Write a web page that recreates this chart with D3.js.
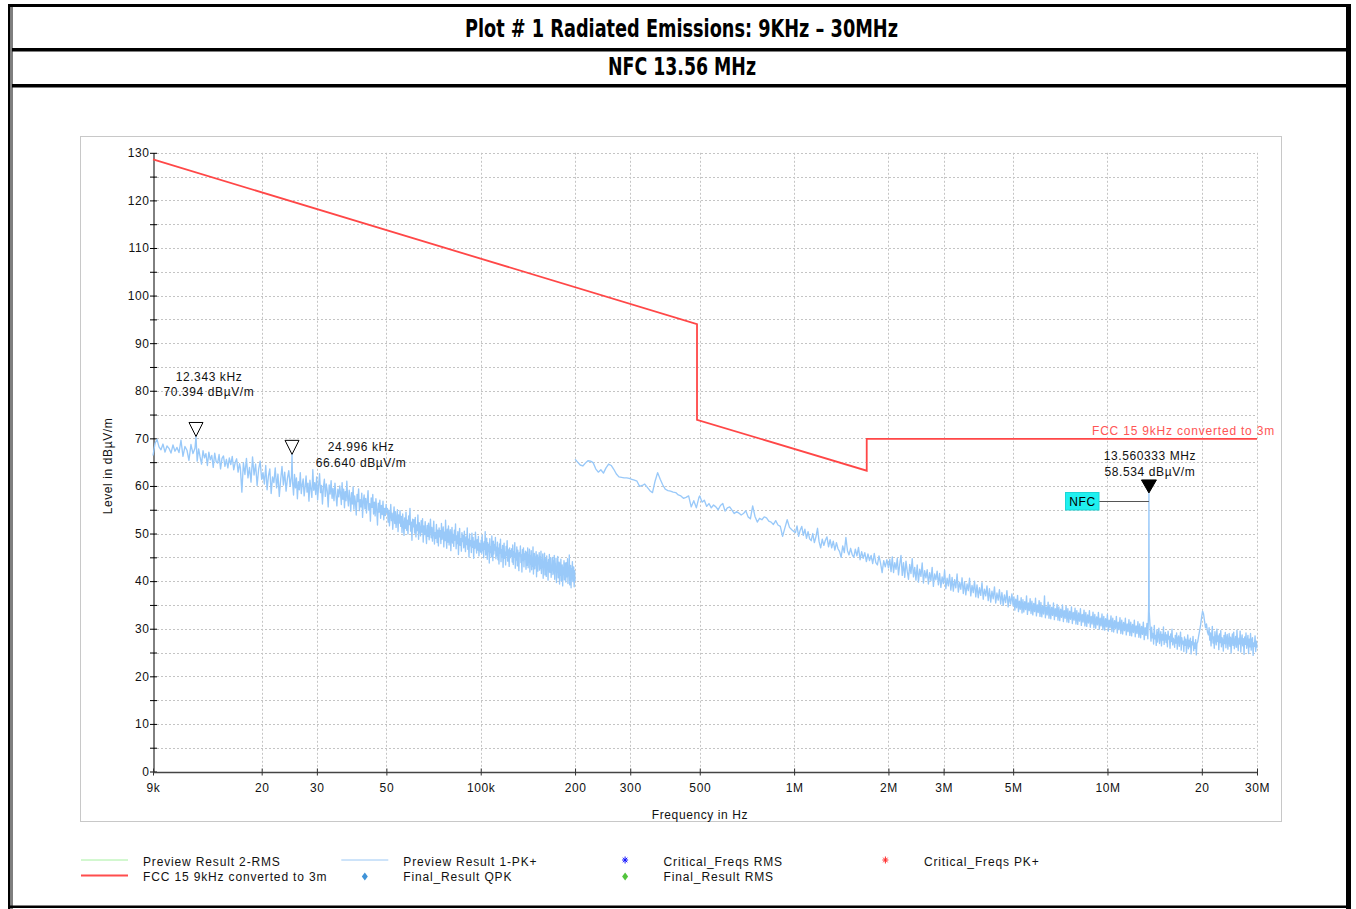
<!DOCTYPE html>
<html>
<head>
<meta charset="utf-8">
<script src="https://cdn.jsdelivr.net/npm/d3@7"></script>
<style>
  body { margin: 0; background: #fff; }
  svg { display: block; }
  text { font-family: "Liberation Sans", Arial, sans-serif; font-size: 12px; }
</style>
</head>
<body>
<svg id="chart"></svg>
<script>
const title = "Plot # 1 Radiated Emissions: 9KHz \u2013 30MHz"
const subtitle = "NFC 13.56 MHz"

const yTickValues = [0, 10, 20, 30, 40, 50, 60, 70, 80, 90, 100, 110, 120, 130]
const yMinorTicks = [5, 15, 25, 35, 45, 55, 65, 75, 85, 95, 105, 115, 125]
const xTickFreqs = [9e3, 20e3, 30e3, 50e3, 100e3, 200e3, 300e3, 500e3, 1e6, 2e6, 3e6, 5e6, 10e6, 20e6, 30e6]
const xTickLabels = ["9k", "20", "30", "50", "100k", "200", "300", "500", "1M", "2M", "3M", "5M", "10M", "20", "30M"]

// FCC 15 limit, converted to 3m
const limitFreqs = [9e3, 490e3, 490e3, 1.705e6, 1.705e6, 30e6]
const limitLevels = [128.6, 94.0, 73.9, 63.2, 69.9, 69.9]

// Preview Result 1-PK+, sweep 1 (9 kHz - 200 kHz), levels in dBuV/m per sub band
const pkA = [66.4, 68.9, 69.8, 68.2, 67.6, 68.8, 67.1, 68.4, 67.9, 66.9, 68.6, 67.3, 68.1, 67.0, 69.6, 66.2, 68.3, 67.5, 65.4, 68.7, 66.8, 67.9]
const pkB = [65.2, 67.8, 66.1, 64.6, 67.4, 65.9, 66.8, 64.3, 67.1, 65.5, 66.4, 63.9, 66.9, 65.1, 64.8, 66.6, 63.6, 65.8, 66.3, 64.1, 65.6, 63.8, 65.9, 64.5, 66.2, 63.4, 64.9, 65.7, 62.9, 64.7]
const pkC = [63.8, 58.7, 64.9, 62.4, 65.8, 61.7, 63.9, 60.8, 66.1, 62.3, 64.6, 60.1, 63.5, 65.2, 61.4]
const pkD = [62.8, 60.4, 64.3, 59.2, 62.1, 63.6, 58.4, 61.9, 60.7, 63.8, 59.6, 62.5, 57.8, 61.3, 64.1, 60.2, 62.9, 58.9, 61.6, 63.2, 59.9, 62.2]
const pkE = [60.8, 58.1, 62.4, 59.6, 61.7, 57.3, 60.9, 59.2, 62.8, 58.4, 60.3, 61.5, 57.9, 59.8, 62.1, 58.7, 60.6, 56.8, 61.2, 59.4,
  57.6, 63.4, 59.1, 60.7, 58.2, 61.9, 57.1, 59.9, 62.6, 58.6, 60.1, 56.2, 59.7, 61.4, 57.8, 60.4, 58.9, 55.6, 60.2, 58.3,
  61.1, 57.4, 59.5, 56.9, 60.6, 58.1, 55.8, 59.3, 57.7, 60.0]
const pkF = [58.4, 56.1, 60.7, 57.2, 59.3, 55.4, 58.8, 56.9, 61.0, 57.6, 55.8, 59.1, 57.3, 54.7, 58.6, 56.2, 59.8, 55.1, 57.9, 56.5,
  53.9, 58.2, 56.7, 59.4, 54.8, 57.1, 55.6, 58.5, 53.4, 56.8, 58.1, 55.2, 57.4, 54.3, 56.9, 59.0, 54.9, 56.3, 52.6, 57.5,
  55.5, 58.2, 54.1, 56.6, 53.7, 57.3, 55.0, 51.8, 56.4, 54.5, 57.0, 53.2, 55.9, 54.0, 56.8, 52.9, 55.3, 53.8, 56.1, 54.4]
const pkG = [55.2, 52.4, 54.9, 51.6, 53.8, 56.1, 52.7, 54.3, 50.9, 53.5, 55.6, 52.1, 54.6, 51.3, 53.1, 55.0, 50.4, 53.9, 52.2, 54.8,
  51.5, 53.6, 50.2, 54.1, 52.0, 49.6, 53.3, 51.1, 54.5, 50.7, 52.8, 49.9, 53.7, 51.9, 55.3, 50.5, 52.4, 48.6, 53.0, 51.4,
  52.9, 50.1, 53.4, 49.3, 51.8, 50.6, 53.9, 48.8, 52.3, 50.9, 49.5, 52.7, 50.3, 53.1, 48.2, 51.6, 49.8, 52.5, 50.0, 47.9,
  51.7, 49.4, 52.2, 48.7, 50.8, 53.0, 49.1, 51.3, 48.4, 50.5, 52.6, 47.8, 50.2, 49.0, 51.9, 48.1, 50.7, 47.4, 51.2, 49.3]
const pkH = [50.6, 47.9, 52.1, 48.8, 49.9, 51.4, 47.2, 50.3, 48.5, 52.8, 49.1, 46.9, 50.9, 48.2, 51.6, 47.6, 49.7, 50.8, 46.4, 49.4,
  51.3, 48.0, 49.8, 47.3, 50.7, 48.6, 52.0, 46.8, 49.5, 47.9, 50.4, 45.6, 49.0, 51.1, 47.5, 48.9, 46.3, 50.2, 48.3, 49.6,
  47.0, 50.5, 48.1, 46.2, 49.3, 47.7, 51.2, 46.7, 48.8, 45.1, 49.9, 47.4, 48.5, 46.0, 50.1, 47.1, 49.2, 44.8, 48.4, 46.9,
  50.3, 47.8, 45.9, 48.7, 46.5, 49.4, 45.3, 48.0, 47.2, 46.1]
const pkI = [48.6, 45.8, 49.7, 46.4, 47.9, 44.9, 48.3, 46.7, 50.4, 45.5, 47.4, 49.0, 44.6, 48.1, 46.2, 47.7, 43.8, 48.9, 46.0, 47.2,
  45.1, 49.5, 46.8, 44.3, 48.4, 45.7, 47.6, 46.5, 49.2, 44.7, 47.1, 45.3, 48.2, 44.5, 46.9, 43.6, 47.8, 45.9, 48.8, 44.1,
  46.6, 45.0, 47.5, 42.9, 46.3, 48.0, 44.8, 46.1, 43.4, 47.3, 45.4, 48.5, 44.2, 46.7, 45.6, 43.1, 47.0, 44.9, 46.4, 45.2,
  46.8, 44.0, 47.6, 43.5, 46.2, 45.1, 48.1, 42.7, 45.8, 44.4, 47.2, 43.2, 46.5, 44.7, 42.2, 46.0, 45.3, 47.4, 43.9, 45.5,
  41.9, 46.6, 44.3, 47.0, 43.0, 45.7, 44.6, 46.3, 42.5, 45.0]
const pkJ = [46.1, 43.3, 47.0, 42.8, 45.4, 44.0, 46.7, 41.9, 45.2, 43.6, 46.4, 42.4, 44.9, 43.1, 47.2, 41.5, 44.6, 45.8, 42.6, 45.0,
  43.4, 46.2, 40.9, 44.3, 45.5, 42.1, 44.8, 43.7, 46.0, 42.3, 45.1, 42.7, 46.3, 41.6, 44.4, 43.0, 45.7, 40.6, 44.1, 42.9,
  45.9, 41.3, 43.8, 44.7, 41.0, 45.3, 42.5, 43.9, 40.2, 44.5, 42.0, 45.6, 41.8, 43.5, 44.9, 40.8, 43.2, 42.2, 45.0, 41.4,
  44.2, 41.7, 45.4, 40.4, 43.6, 42.3, 44.8, 39.7, 43.1, 41.9, 45.2, 40.7, 42.8, 44.0, 39.4, 43.7, 41.2, 44.6, 40.1, 42.6,
  43.4, 39.0, 42.9, 41.5, 44.3, 40.3, 42.4, 43.8, 39.8, 42.1, 43.9, 40.9, 44.7, 39.5, 42.7, 41.1, 45.5, 39.2, 42.0, 43.3,
  38.6, 42.5, 40.5, 44.1, 39.9, 41.6, 43.0, 38.8, 42.2, 40.0]

// sweep 2 (200 kHz - 30 MHz)
const pkK = [65.6, 65.0, 64.4, 64.2, 64.8, 65.3, 65.2, 64.9, 63.6, 62.9, 63.4, 62.7, 63.8, 64.6, 64.3, 63.5, 62.5, 61.9, 61.8, 61.7,
  61.7, 61.6, 61.4, 61.2, 61.0, 59.9, 60.1, 60.4, 59.7, 59.0, 58.6, 61.0, 62.8, 61.4, 60.2, 59.3, 59.0, 58.9, 58.7, 58.6,
  58.1, 57.9, 57.4, 57.6, 57.9, 55.6, 56.9, 55.4, 57.6]
const pkL = [57.9, 56.6, 57.0, 55.7, 56.3, 55.4, 56.0, 55.6, 55.0, 55.9, 56.3, 54.7, 55.4, 55.6, 54.9, 54.2, 54.6, 54.3, 53.9, 54.2,
  54.8, 53.5, 53.1, 55.8, 53.6, 52.4, 53.2, 52.9, 53.5, 53.3, 52.6, 52.4, 51.9, 52.7, 51.8, 51.5, 49.4, 51.2, 52.9, 51.3,
  50.8, 50.4]
const pkM = [50.2, 51.6, 49.4, 50.7, 51.5, 49.6, 50.9, 49.0, 50.4, 48.9, 48.5, 50.0, 48.1, 49.3, 51.1, 48.3, 47.0, 48.8, 47.5, 48.6,
  49.3, 47.2, 48.7, 47.0, 48.4, 46.5, 48.1, 46.8, 46.2, 45.0, 47.4, 46.0, 49.2, 46.4, 45.5, 46.9, 45.6, 45.0, 46.7, 45.3,
  47.1, 44.5, 46.2, 44.8, 46.0, 44.1, 45.7, 44.3, 45.4, 43.7, 45.8, 43.9, 43.4, 45.3, 43.8, 41.8, 44.3, 43.0, 44.5, 42.8]
const pkN = [44.6, 42.0, 45.1, 41.8, 43.9, 42.5, 44.8, 41.3, 43.6, 45.4, 41.2, 43.9, 40.8, 44.2, 42.1, 40.4, 43.5, 41.6, 44.7, 40.9,
  42.9, 40.2, 43.4, 39.8, 42.5, 41.0, 43.8, 39.6, 42.2, 40.7, 42.4, 39.4, 41.8, 40.1, 42.9, 38.9, 41.5, 40.3, 42.1, 39.2,
  41.6, 38.7, 40.9, 39.5, 42.3, 38.4, 40.6, 39.0, 41.4, 38.1, 40.8, 37.9, 40.3, 38.6, 41.5, 37.7, 39.8, 38.3, 40.7, 37.4,
  39.9, 37.1, 39.4, 38.0, 40.6, 36.9, 39.1, 37.6, 40.0, 36.7, 39.2, 36.5, 38.6, 37.0, 39.7, 36.2, 38.3, 36.9, 39.0, 35.9,
  38.4, 35.6, 37.9, 36.3, 38.8, 35.4, 37.5, 36.0, 38.2, 35.2, 37.6, 34.9, 37.1, 35.5, 38.0, 34.6, 36.8, 35.2, 37.3, 34.8]
const pkO = [36.7, 33.9, 36.2, 34.4, 37.0, 33.6, 35.8, 34.1, 36.5, 33.3, 36.1, 33.5, 35.7, 34.0, 36.9, 33.0, 35.4, 33.8, 36.3, 33.2,
  35.8, 32.9, 35.3, 33.6, 36.4, 32.7, 35.0, 33.4, 35.9, 32.6, 35.5, 32.5, 34.8, 33.1, 36.9, 32.3, 34.6, 32.9, 35.6, 32.2,
  35.0, 32.1, 34.5, 32.8, 35.4, 31.9, 34.2, 32.6, 35.1, 31.8, 34.6, 31.7, 34.1, 32.4, 35.0, 31.5, 33.8, 32.2, 34.7, 31.4,
  34.2, 31.3, 33.7, 32.0, 34.6, 31.1, 33.4, 31.8, 34.3, 31.0, 33.8, 30.9, 33.3, 31.6, 34.2, 30.7, 33.0, 31.4, 33.9, 30.6,
  33.4, 30.5, 32.9, 31.2, 33.8, 30.3, 32.6, 31.0, 33.5, 30.2, 33.0, 30.1, 32.5, 30.8, 33.4, 29.9, 32.2, 30.6, 33.1, 29.8,
  32.6, 29.7, 32.1, 30.4, 33.0, 29.5, 31.8, 30.2, 32.7, 29.4, 32.2, 29.3, 31.7, 30.0, 32.6, 29.1, 31.4, 29.8, 32.3, 29.0,
  31.8, 28.9, 31.3, 29.6, 32.2, 28.7, 31.0, 29.4, 31.9, 28.6, 31.4, 28.5, 30.9, 29.2, 31.8, 28.3, 30.6, 29.0, 31.5, 28.2,
  31.0, 28.1, 30.5, 28.8, 31.4, 27.7, 30.2, 28.6, 31.1, 27.9]
const pkP = [29.6, 27.4, 30.3, 28.1, 29.0, 26.8, 30.7, 27.9, 28.6, 26.5, 29.8, 27.2, 28.9, 30.1, 26.9, 28.3, 29.4, 26.4, 28.8, 27.6,
  30.4, 26.7, 28.2, 29.2, 27.1, 28.7, 26.2, 29.5, 27.8, 28.4, 25.9, 28.9, 27.3, 29.9, 26.6, 28.0, 27.5, 26.1, 28.6, 27.0,
  29.1, 25.7, 27.9, 28.5, 26.3, 27.7, 29.3, 25.5, 28.1, 26.8, 27.4, 25.2, 28.3, 26.5, 27.8, 24.9, 27.1, 28.7, 25.8, 27.6,
  26.2, 28.0, 24.7, 27.3, 26.6, 28.4, 25.4, 27.0, 25.9, 27.7, 24.5, 26.9]
const pkQ = [27.2, 28.5, 29.6, 30.8, 32.4, 33.7, 33.1, 31.6, 30.2, 31.0, 29.3, 28.7]
const pkR = [30.2, 27.6, 29.1, 26.4, 28.7, 30.5, 27.0, 28.3, 25.9, 29.4, 27.8, 26.6, 29.9, 27.3, 28.5, 25.6, 28.9, 27.1, 29.6, 26.2,
  28.1, 27.5, 25.3, 28.6, 26.9, 29.2, 26.0, 27.9, 28.8, 25.7, 27.4, 29.0, 26.3, 28.2, 24.9, 27.7, 28.9, 26.5, 29.3, 25.8,
  27.2, 28.4, 26.1, 29.7, 27.0, 25.4, 28.0, 26.8, 29.5, 25.1, 27.6, 28.7, 26.4, 27.9, 24.6, 28.3, 26.7, 29.1, 25.9, 27.3,
  28.6, 24.8, 27.8, 26.2, 29.0, 25.5, 27.5, 28.1, 24.4, 27.0, 26.3, 28.5, 25.2, 27.4, 26.0]

// single readings between the sweep steps [freq, level]
const pkPeaks = [[12.343e3, 70.394], [24.996e3, 66.64], [13.53e6, 34.2], [13.560333e6, 58.534], [13.59e6, 33.5]]

const sweep1 = [
  [9.0e3, 12.25e3, pkA], [12.45e3, 17.0e3, pkB], [17.1e3, 20.0e3, pkC], [20.2e3, 24.9e3, pkD], [25.1e3, 35.5e3, pkE],
  [35.7e3, 50.2e3, pkF], [50.4e3, 74e3, pkG], [74.3e3, 100e3, pkH], [100.3e3, 140e3, pkI], [140.3e3, 200e3, pkJ]
]
const sweep2 = [
  [200e3, 497e3, pkK], [500e3, 1.0e6, pkL], [1.01e6, 2.0e6, pkM], [2.02e6, 5.0e6, pkN], [5.03e6, 13.45e6, pkO],
  [13.7e6, 19.3e6, pkP], [19.4e6, 21.0e6, pkQ], [21.1e6, 30e6, pkR]
]

const markerFreqs = [12.343e3, 24.996e3, 13.560333e6]
const markerLevels = [70.394, 66.64, 58.534]
const markerFreqText = ["12.343 kHz", "24.996 kHz", "13.560333 MHz"]
const markerLevelText = ["70.394 dB\u00b5V/m", "66.640 dB\u00b5V/m", "58.534 dB\u00b5V/m"]

const legendNames = ["Preview Result 2-RMS", "FCC 15 9kHz converted to 3m", "Preview Result 1-PK+", "Final_Result QPK",
  "Critical_Freqs RMS", "Final_Result RMS", "Critical_Freqs PK+"]
const legendColors = ["#a6f0a0", "#ff4d4d", "#9cc8f4", "#3f93d8", "#1010ff", "#52c43c", "#ff2a2a"]
const legendKinds = ["line", "line", "line", "diamond", "star", "diamond", "star"]

const W = 1356, H = 909

const svg = d3.select("#chart").attr("width", W).attr("height", H)

// page frame
const frame = svg.append("g").attr("fill", "#000")
frame.append("rect").attr("x", 8).attr("y", 4).attr("width", 1343).attr("height", 3)
frame.append("rect").attr("x", 8).attr("y", 4).attr("width", 2.5).attr("height", 905)
frame.append("rect").attr("x", 11.5).attr("y", 4).attr("width", 1).attr("height", 905)
frame.append("rect").attr("x", 1346).attr("y", 4).attr("width", 5).attr("height", 905)
frame.append("rect").attr("x", 12).attr("y", 48).attr("width", 1334).attr("height", 3.5)
frame.append("rect").attr("x", 12).attr("y", 84).attr("width", 1334).attr("height", 3.5)
frame.append("rect").attr("x", 8).attr("y", 905.5).attr("width", 1343).attr("height", 2.5)

const titleFont = "'Liberation Sans Narrow', 'Arial Narrow', 'DejaVu Sans Condensed', sans-serif"
svg.append("text").attr("x", 681.5).attr("y", 37).attr("text-anchor", "middle")
  .style("font-family", titleFont).style("font-size", "24px").style("font-weight", "bold")
  .attr("textLength", 433).attr("lengthAdjust", "spacingAndGlyphs").text(title)
svg.append("text").attr("x", 682).attr("y", 75).attr("text-anchor", "middle")
  .style("font-family", titleFont).style("font-size", "24px").style("font-weight", "bold")
  .attr("textLength", 148).attr("lengthAdjust", "spacingAndGlyphs").text(subtitle)

// chart panel
svg.append("rect").attr("x", 80.5).attr("y", 136.5).attr("width", 1201).attr("height", 685)
  .attr("fill", "none").attr("stroke", "#c8c8c8")

const x = d3.scaleLog().domain([9e3, 30e6]).range([153, 1257])
const y = d3.scaleLinear().domain([0, 130]).range([771.5, 152.8])

const grid = svg.append("g").attr("stroke", "#c4c4c4").attr("stroke-dasharray", "2,2").attr("stroke-width", 1)
grid.selectAll(".h").data(yTickValues.concat(yMinorTicks).filter(d => d > 0)).enter().append("line")
  .attr("x1", 153).attr("x2", 1257)
  .attr("y1", d => Math.round(y(d)) + 0.5).attr("y2", d => Math.round(y(d)) + 0.5)
grid.selectAll(".v").data(xTickFreqs.slice(1)).enter().append("line")
  .attr("y1", y(130)).attr("y2", y(0))
  .attr("x1", d => Math.round(x(d)) + 0.5).attr("x2", d => Math.round(x(d)) + 0.5)

const txt = sel => sel.selectAll("text").style("font-size", "12px").style("letter-spacing", "0.6px")
  .style("font-family", "'Liberation Sans', Arial, sans-serif").attr("fill", "#111")

const yAxis = svg.append("g").attr("transform", "translate(153.5,0)")
  .call(d3.axisLeft(y).tickValues(yTickValues.concat(yMinorTicks)).tickSize(3).tickSizeOuter(0).tickPadding(1)
    .tickFormat(d => yTickValues.includes(d) ? d : ""))
yAxis.selectAll(".tick line").attr("x2", -3.5).attr("x1", 3.5).attr("stroke", "#000")
yAxis.select(".domain").attr("stroke", "#000")
txt(yAxis)

const xAxis = svg.append("g").attr("transform", "translate(0,772)")
  .call(d3.axisBottom(x).tickValues(xTickFreqs).tickSize(3).tickSizeOuter(0).tickPadding(8)
    .tickFormat((d, i) => xTickLabels[i]))
xAxis.selectAll(".tick line").attr("y1", -3.5).attr("y2", 3.5).attr("stroke", "#333")
xAxis.select(".domain").attr("stroke", "#444").attr("stroke-width", 1.3)
txt(xAxis)

svg.append("text").attr("transform", "translate(112,466) rotate(-90)").attr("text-anchor", "middle")
  .style("letter-spacing", "0.6px").attr("fill", "#111").text("Level in dB\u00b5V/m")
svg.append("text").attr("x", 700).attr("y", 818.5).attr("text-anchor", "middle")
  .style("letter-spacing", "0.6px").attr("fill", "#111").text("Frequency in Hz")

// build sweep points from sub bands plus the single readings
function sweepPoints(bands) {
  const pts = []
  bands.forEach(([f0, f1, levels]) => {
    const n = levels.length
    levels.forEach((v, i) => pts.push([f0 * Math.pow(f1 / f0, i / (n - 1)), v]))
  })
  const lo = bands[0][0], hi = bands[bands.length - 1][1]
  pkPeaks.filter(p => p[0] >= lo && p[0] <= hi).forEach(p => pts.push(p))
  return pts.sort((a, b) => a[0] - b[0])
}

const line = d3.line().x(d => x(d[0])).y(d => y(d[1]))

const plot = svg.append("g")
;[sweep1, sweep2].forEach(bands => {
  plot.append("path").datum(sweepPoints(bands))
    .attr("d", line).attr("fill", "none").attr("stroke", "#99c9f9").attr("stroke-width", 1.35)
    .attr("stroke-linejoin", "round")
})

// limit line
plot.append("path").datum(limitFreqs.map((f, i) => [f, limitLevels[i]]))
  .attr("d", line).attr("fill", "none").attr("stroke", "#ff4747").attr("stroke-width", 1.8)
plot.append("text").attr("x", 1275).attr("y", 434.5).attr("text-anchor", "end")
  .style("letter-spacing", "0.8px").attr("fill", "#ff5555").text("FCC 15 9kHz converted to 3m")

// markers
const labelOffsets = [[13, -55, -40.5], [69, -3, 12.5], [1, -33, -17]]
markerFreqs.forEach((f, i) => {
  const mx = x(f), my = y(markerLevels[i])
  const filled = i === 2
  const w = filled ? 7.5 : 7, h = filled ? 13 : 14
  plot.append("path").attr("d", `M${mx},${my}L${mx - w},${my - h}L${mx + w},${my - h}Z`)
    .attr("fill", filled ? "#000" : "#fff").attr("stroke", "#000").attr("stroke-width", 1)
  const [dx, dy1, dy2] = labelOffsets[i]
  plot.append("text").attr("x", mx + dx).attr("y", my + dy1).attr("text-anchor", "middle")
    .style("letter-spacing", "0.6px").attr("fill", "#111").text(markerFreqText[i])
  plot.append("text").attr("x", mx + dx).attr("y", my + dy2).attr("text-anchor", "middle")
    .style("letter-spacing", "0.6px").attr("fill", "#111").text(markerLevelText[i])
})

// NFC tag for the 13.56 MHz marker
const nfcX = x(markerFreqs[2])
plot.append("line").attr("x1", 1099).attr("x2", nfcX).attr("y1", 501.5).attr("y2", 501.5)
  .attr("stroke", "#555").attr("stroke-width", 1)
plot.append("rect").attr("x", 1065.5).attr("y", 492.5).attr("width", 33.5).attr("height", 17.5)
  .attr("fill", "#1ff0f0").attr("stroke", "#1ad6d6")
plot.append("text").attr("x", 1082.5).attr("y", 506).attr("text-anchor", "middle")
  .style("letter-spacing", "0.6px").attr("fill", "#000").text("NFC")

// legend
const legend = svg.append("g")
legendNames.forEach((name, i) => {
  const col = Math.floor(i / 2), row = i % 2
  const lx = 81 + col * 260.3, ly = 861 + row * 15.5
  const g = legend.append("g").attr("transform", `translate(${lx},${ly})`)
  const c = legendColors[i]
  if (legendKinds[i] === "line") {
    g.append("line").attr("x1", 0).attr("x2", 47).attr("y1", -1).attr("y2", -1)
      .attr("stroke", c).attr("stroke-width", i === 1 ? 2 : 1)
  } else if (legendKinds[i] === "diamond") {
    g.append("path").attr("d", "M23.5,-4L26.5,0L23.5,4L20.5,0Z").attr("fill", c)
  } else {
    g.append("path").attr("d", "M23.5,-4.5V2.5M20.5,-1H26.5M21.3,-3.3L25.7,1.3M25.7,-3.3L21.3,1.3")
      .attr("stroke", c).attr("stroke-width", 1)
  }
  g.append("text").attr("x", 62).attr("y", 4.5).style("letter-spacing", "0.85px").attr("fill", "#111").text(name)
})
</script>
</body>
</html>
